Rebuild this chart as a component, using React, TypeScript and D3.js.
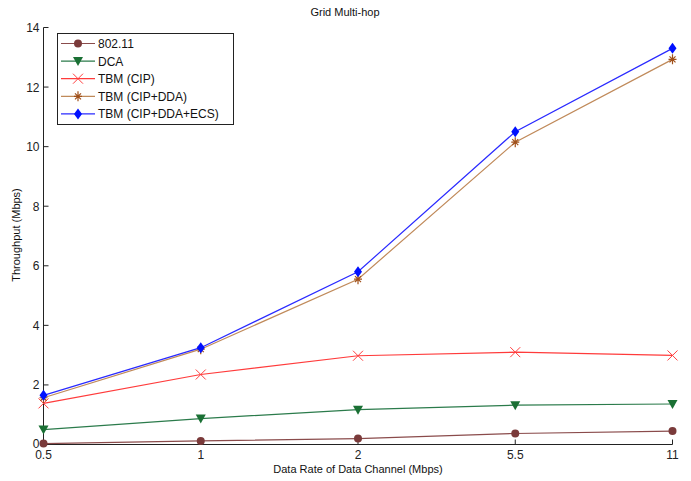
import React from "react";
import * as d3 from "d3";

const rates = ["0.5", "1", "2", "5.5", "11"];
const yTicks = [0, 2, 4, 6, 8, 10, 12, 14];

const seriesNames = ["802.11", "DCA", "TBM (CIP)", "TBM (CIP+DDA)", "TBM (CIP+DDA+ECS)"];
const s80211 = [0.03, 0.12, 0.2, 0.37, 0.45];
const sDCA = [0.5, 0.87, 1.17, 1.32, 1.36];
const sCIP = [1.38, 2.35, 2.98, 3.1, 2.99];
const sCIPDDA = [1.57, 3.2, 5.55, 10.15, 12.93];
const sCIPDDAECS = [1.65, 3.25, 5.8, 10.5, 13.3];

const lineColors = ["#8a4b4b", "#2b7b4b", "#ff3b3b", "#c08a5a", "#2a2aff"];
const markerColors = ["#7a3a3a", "#1a7034", "#ff4040", "#a0501a", "#0010ff"];
const markerKinds = ["circle", "triangle", "x", "star", "diamond"];

const W = 691;
const H = 481;
const font = "Arial, 'Liberation Sans', sans-serif";

function Marker({ kind, x, y, color }: { kind: string; x: number; y: number; color: string }) {
  if (kind === "circle") return <circle cx={x} cy={y} r={4} fill={color} />;
  if (kind === "triangle")
    return <path d={`M${x - 5},${y - 4}L${x + 5},${y - 4}L${x},${y + 5}Z`} fill={color} />;
  if (kind === "x")
    return (
      <path
        d={`M${x - 5},${y - 5}L${x + 5},${y + 5}M${x - 5},${y + 5}L${x + 5},${y - 5}`}
        stroke={color}
        strokeWidth={1}
        fill="none"
      />
    );
  if (kind === "star")
    return (
      <path
        d={`M${x - 4},${y}L${x + 4},${y}M${x},${y - 5}L${x},${y + 5}M${x - 3},${y - 3}L${x + 3},${y + 3}M${x - 3},${y + 3}L${x + 3},${y - 3}`}
        stroke={color}
        strokeWidth={1.2}
        fill="none"
      />
    );
  return <path d={`M${x},${y - 5.5}L${x + 4},${y}L${x},${y + 5.5}L${x - 4},${y}Z`} fill={color} />;
}

export default function App() {
  const x = d3.scalePoint<string>().domain(rates).range([43.5, 672.5]);
  const y = d3.scaleLinear().domain([0, 14]).range([444.5, 27.5]);
  const data = [s80211, sDCA, sCIP, sCIPDDA, sCIPDDAECS];
  const line = d3
    .line<number>()
    .x((_, i) => x(rates[i]) as number)
    .y((d) => y(d));

  const x0 = x.range()[0];
  const x1 = x.range()[1];
  const y0 = y(0);
  const yTop = y(14);

  return (
    <svg width={W} height={H} style={{ position: "absolute", left: 0, top: 0, background: "#fff" }} fontFamily={font}>
      <rect width={W} height={H} fill="#fff" />
      <text x={345} y={16} fontSize={11} textAnchor="middle" fill="#111">
        Grid Multi-hop
      </text>

      {/* axes */}
      <path d={`M${x0},${yTop}L${x0},${y0}L${x1},${y0}`} stroke="#222" fill="none" strokeWidth={1} />
      {yTicks.map((t) => (
        <g key={t}>
          <line x1={x0} x2={x0 + 5} y1={y(t)} y2={y(t)} stroke="#222" />
          <text x={x0 - 4} y={y(t) + (t === 0 ? 3 : 4.5)} fontSize={12} textAnchor="end" fill="#222">
            {t}
          </text>
        </g>
      ))}
      {rates.map((r) => (
        <g key={r}>
          <line x1={x(r)} x2={x(r)} y1={y0} y2={y0 - 5} stroke="#222" />
          <text x={x(r)} y={y0 + 14} fontSize={12} textAnchor="middle" fill="#222">
            {r}
          </text>
        </g>
      ))}
      <text x={358} y={473} fontSize={11} textAnchor="middle" fill="#111">
        Data Rate of Data Channel (Mbps)
      </text>
      <text
        transform={`translate(20,${235}) rotate(-90)`}
        fontSize={11}
        textAnchor="middle"
        fill="#111"
      >
        Throughput (Mbps)
      </text>

      {/* series */}
      {data.map((vals, si) => (
        <g key={seriesNames[si]}>
          <path d={line(vals) || ""} stroke={lineColors[si]} strokeWidth={1.2} fill="none" />
          {vals.map((v, i) => (
            <Marker key={i} kind={markerKinds[si]} x={x(rates[i]) as number} y={y(v)} color={markerColors[si]} />
          ))}
        </g>
      ))}

      {/* legend */}
      <rect x={57.5} y={33.5} width={176} height={91} fill="#fff" stroke="#222" strokeWidth={1} />
      {seriesNames.map((name, i) => {
        const ly = 43.5 + i * 17.6;
        return (
          <g key={name}>
            <line x1={61} x2={95} y1={ly} y2={ly} stroke={lineColors[i]} strokeWidth={1.2} />
            <Marker kind={markerKinds[i]} x={78} y={ly} color={markerColors[i]} />
            <text x={98} y={ly + 4.5} fontSize={12} fill="#111">
              {name}
            </text>
          </g>
        );
      })}
    </svg>
  );
}
